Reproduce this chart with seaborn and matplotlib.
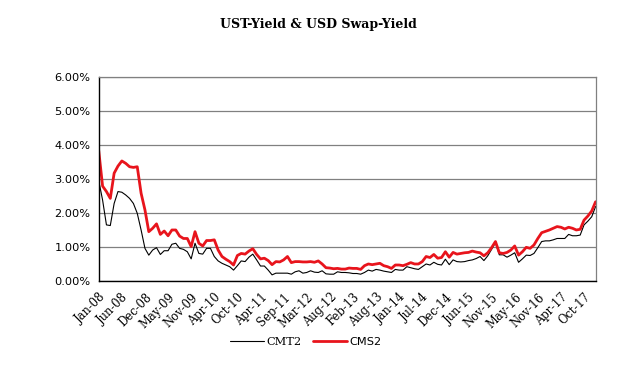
import numpy as np
import pandas as pd
import matplotlib
matplotlib.use("Agg")
import matplotlib.pyplot as plt
import matplotlib.ticker as mtick
import seaborn as sns

sns.set_theme(style="white", rc={"text.color": "black", "xtick.color": "black",
                                 "ytick.color": "black", "axes.labelcolor": "black"})

# 4-weekly observations, yields in percent
cms2 = [3.83, 2.79, 2.63, 2.43, 3.17, 3.38, 3.53, 3.46, 3.36, 3.34,
        3.36, 2.58, 2.09, 1.45, 1.55, 1.68, 1.37, 1.47, 1.33, 1.50,
        1.50, 1.32, 1.25, 1.25, 1.01, 1.45, 1.11, 1.03, 1.19, 1.19,
        1.21, 0.91, 0.72, 0.64, 0.57, 0.47, 0.75, 0.81, 0.79, 0.88,
        0.95, 0.78, 0.65, 0.67, 0.60, 0.48, 0.57, 0.56, 0.62, 0.72,
        0.54, 0.57, 0.57, 0.56, 0.56, 0.57, 0.55, 0.59, 0.50, 0.39,
        0.38, 0.36, 0.37, 0.35, 0.35, 0.38, 0.37, 0.37, 0.34, 0.45,
        0.50, 0.48, 0.50, 0.52, 0.45, 0.42, 0.37, 0.47, 0.47, 0.45,
        0.49, 0.54, 0.50, 0.50, 0.57, 0.72, 0.69, 0.78, 0.67, 0.69,
        0.86, 0.70, 0.84, 0.79, 0.81, 0.83, 0.84, 0.88, 0.85, 0.83,
        0.74, 0.83, 0.98, 1.16, 0.83, 0.81, 0.84, 0.91, 1.03, 0.76,
        0.86, 0.99, 0.96, 1.06, 1.25, 1.42, 1.46, 1.50, 1.55, 1.60,
        1.58, 1.53, 1.58, 1.55, 1.50, 1.52, 1.79, 1.91, 2.06, 2.33]

cmt2 = [2.95, 2.38, 1.65, 1.63, 2.28, 2.63, 2.61, 2.53, 2.43, 2.28,
        1.99, 1.50, 0.96, 0.76, 0.91, 0.98, 0.78, 0.89, 0.89, 1.08,
        1.11, 0.96, 0.93, 0.86, 0.65, 1.11, 0.81, 0.79, 0.96, 0.96,
        0.72, 0.59, 0.52, 0.47, 0.42, 0.32, 0.45, 0.59, 0.57, 0.70,
        0.79, 0.62, 0.44, 0.44, 0.32, 0.18, 0.23, 0.23, 0.23, 0.23,
        0.20, 0.27, 0.30, 0.23, 0.25, 0.30, 0.26, 0.25, 0.30, 0.21,
        0.20, 0.20, 0.27, 0.25, 0.25, 0.24, 0.22, 0.22, 0.20, 0.25,
        0.32, 0.29, 0.34, 0.32, 0.29, 0.27, 0.25, 0.34, 0.32, 0.32,
        0.42, 0.39, 0.36, 0.34, 0.42, 0.50, 0.47, 0.55, 0.49, 0.47,
        0.64, 0.48, 0.62, 0.57, 0.56, 0.57, 0.60, 0.62, 0.66, 0.72,
        0.60, 0.74, 0.93, 1.13, 0.77, 0.77, 0.70, 0.76, 0.83, 0.55,
        0.65, 0.76, 0.75, 0.81, 0.98, 1.16, 1.18, 1.18, 1.21, 1.25,
        1.25, 1.25, 1.37, 1.33, 1.33, 1.35, 1.65, 1.76, 1.89, 2.19]

tick_labels = ["Jan-08", "Jun-08", "Dec-08", "May-09", "Nov-09", "Apr-10",
               "Oct-10", "Apr-11", "Sep-11", "Mar-12", "Aug-12", "Feb-13",
               "Aug-13", "Jan-14", "Jul-14", "Dec-14", "Jun-15", "Nov-15",
               "May-16", "Nov-16", "Apr-17", "Oct-17"]
label_step = 6

n = len(cms2)
df = pd.DataFrame({
    "idx": list(range(n)) * 2,
    "value": cmt2 + cms2,
    "series": ["CMT2"] * n + ["CMS2"] * n,
})

fig = plt.figure(figsize=(6.37, 3.76), dpi=100)
ax = fig.add_axes([0.155, 0.2527, 0.78, 0.5426])

sns.lineplot(data=df[df.series == "CMT2"], x="idx", y="value", color="black",
             linewidth=0.8, ax=ax, label="CMT2")
sns.lineplot(data=df[df.series == "CMS2"], x="idx", y="value", color="#e8141c",
             linewidth=2.0, ax=ax, label="CMS2")

ax.set_xlim(0, n - 1)
ax.set_ylim(0, 6)
ax.set_yticks(np.arange(0, 7, 1))
ax.yaxis.set_major_formatter(mtick.FuncFormatter(lambda v, p: f"{v:.2f}%"))
ax.set_xticks(range(0, len(tick_labels) * label_step, label_step))
ax.set_xticklabels(tick_labels, rotation=45, ha="right", rotation_mode="anchor",
                   fontsize=8.3, family="DejaVu Serif")
ax.tick_params(axis="y", labelsize=8.2, length=3, width=0.8, color="black", pad=3)
ax.tick_params(axis="x", length=4, width=0.8, color="black", direction="out", pad=3)
ax.set_xlabel("")
ax.set_ylabel("")

ax.grid(axis="y", color="#808080", linewidth=0.9)
ax.grid(axis="x", visible=False)
for side in ["left", "bottom"]:
    ax.spines[side].set_color("black")
    ax.spines[side].set_linewidth(1.0)
for side in ["right", "top"]:
    ax.spines[side].set_color("#808080")
    ax.spines[side].set_linewidth(0.9)
ax.set_zorder(1)

ax.get_legend().remove()
handles, labels = ax.get_legend_handles_labels()
leg = fig.legend(handles, labels, loc="center", bbox_to_anchor=(0.48, 0.09),
                 ncol=2, frameon=False, fontsize=8.2, handlelength=3.0,
                 handletextpad=0.2, columnspacing=1.0)
leg.get_texts()[0].set_family("DejaVu Serif")

fig.text(0.5, 0.935, "UST-Yield & USD Swap-Yield", ha="center", va="center",
         fontsize=9, fontweight="bold", family="DejaVu Serif", color="black")

fig.savefig("out.png", dpi=100)
